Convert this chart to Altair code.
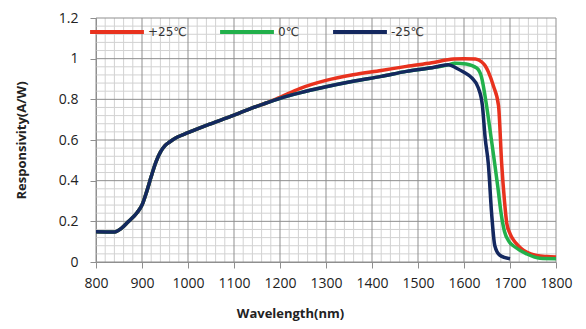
import altair as alt
import pandas as pd

# ---- data ----
series_names = ["+25℃", "0℃", "-25℃"]
series_colors = ["#E8321E", "#22B04B", "#14285F"]

# shared low-wavelength part (all three curves coincide)
common_wl = [800, 840, 855, 870, 890, 900, 910, 920, 930, 940, 950, 960, 975, 1000, 1040, 1100, 1140, 1170]
common_r = [0.149, 0.148, 0.165, 0.198, 0.245, 0.28, 0.345, 0.42, 0.49, 0.54, 0.572, 0.59, 0.612, 0.636, 0.672, 0.722, 0.758, 0.782]

red_wl = [1200, 1243, 1300, 1359, 1420, 1475, 1530, 1577, 1600, 1625, 1638, 1646, 1653, 1664, 1675, 1682, 1688, 1693, 1700, 1707, 1718, 1729, 1745, 1758, 1780, 1800]
red_r = [0.81, 0.853, 0.893, 0.921, 0.942, 0.962, 0.98, 0.998, 1.0, 0.998, 0.985, 0.965, 0.935, 0.865, 0.77, 0.48, 0.30, 0.19, 0.14, 0.11, 0.08, 0.058, 0.04, 0.032, 0.027, 0.025]

blue_mid_wl = [1200, 1243, 1300, 1359, 1420, 1475, 1530, 1566]
blue_mid_r = [0.805, 0.832, 0.862, 0.889, 0.913, 0.9375, 0.955, 0.97]

green_tail_wl = [1580, 1605, 1628, 1638, 1649, 1659, 1667, 1674, 1680, 1688, 1698, 1710, 1736, 1765, 1800]
green_tail_r = [0.978, 0.974, 0.953, 0.91, 0.77, 0.61, 0.48, 0.36, 0.25, 0.15, 0.1, 0.075, 0.04, 0.018, 0.016]

blue_tail_wl = [1584, 1599, 1617, 1631, 1640, 1646, 1653, 1660, 1667, 1678, 1700]
blue_tail_r = [0.953, 0.934, 0.905, 0.857, 0.77, 0.61, 0.48, 0.24, 0.08, 0.033, 0.016]

x_ticks = list(range(800, 1801, 100))
y_ticks = [0, 0.2, 0.4, 0.6, 0.8, 1.0, 1.2]
minor_x = [v for v in range(800, 1801, 20) if v % 100 != 0]
minor_y = [round(i * 0.04, 2) for i in range(31) if i % 5 != 0]

# ---- tables ----
rows = []
curves = {
    series_names[0]: (common_wl + red_wl, common_r + red_r),
    series_names[1]: (common_wl + blue_mid_wl + green_tail_wl, common_r + blue_mid_r + green_tail_r),
    series_names[2]: (common_wl + blue_mid_wl + blue_tail_wl, common_r + blue_mid_r + blue_tail_r),
}
for i, name in enumerate(series_names):
    wl, rr = curves[name]
    for w, r in zip(wl, rr):
        rows.append({"series": name, "wl": w, "r": r, "ord": i})
df = pd.DataFrame(rows)

xscale = alt.Scale(domain=[800, 1800], nice=False, zero=False)
yscale = alt.Scale(domain=[0, 1.2], nice=False)

x_axis = alt.Axis(values=x_ticks, format="d", grid=False, title="Wavelength(nm)",
                  labelFlush=False, labelPadding=8, labelOverlap=False,
                  titleX=194, titleY=51, titleBaseline="middle", titleAlign="center")
y_axis = alt.Axis(values=y_ticks, format="~g", grid=False, title="Responsivity(A/W)",
                  labelFlush=False, labelPadding=12, labelOverlap=False, titlePadding=30)

minor_v = alt.Chart(pd.DataFrame({"x": minor_x})).mark_rule(color="#d2d2d2", strokeWidth=1).encode(
    x=alt.X("x:Q", scale=xscale, axis=x_axis))
minor_h = alt.Chart(pd.DataFrame({"y": minor_y})).mark_rule(color="#d2d2d2", strokeWidth=1).encode(
    y=alt.Y("y:Q", scale=yscale, axis=y_axis))
major_v = alt.Chart(pd.DataFrame({"x": x_ticks})).mark_rule(color="#8f8f8f", strokeWidth=1).encode(
    x=alt.X("x:Q", scale=xscale, axis=x_axis))
major_h = alt.Chart(pd.DataFrame({"y": y_ticks})).mark_rule(color="#8f8f8f", strokeWidth=1).encode(
    y=alt.Y("y:Q", scale=yscale, axis=y_axis))

lines = alt.Chart(df).mark_line(strokeWidth=3.5, interpolate="monotone").encode(
    x=alt.X("wl:Q", scale=xscale, axis=x_axis),
    y=alt.Y("r:Q", scale=yscale, axis=y_axis),
    color=alt.Color("series:N", scale=alt.Scale(domain=series_names, range=series_colors),
                    sort=series_names,
                    legend=alt.Legend(title=None, orient="none", legendX=-8, legendY=-15,
                                      direction="horizontal", symbolType="stroke",
                                      symbolSize=2900, symbolStrokeWidth=4,
                                      columnPadding=25, labelOffset=2)),
    detail="series:N",
    order=alt.Order("ord:Q"),
)

chart = alt.layer(minor_v, minor_h, major_v, major_h, lines).properties(
    width=460, height=244,
    autosize=alt.AutoSizeParams(type="none"),
    padding={"left": 88, "top": 10, "right": 22, "bottom": 59},
    background="white",
).configure_view(stroke=None).configure_axis(
    labelFont="Open Sans", labelFontSize=14, labelColor="#222222",
    titleFont="Open Sans", titleFontSize=13, titleFontWeight="bold", titleColor="#222222",
    domainColor="#8f8f8f", tickColor="#8f8f8f", tickSize=6,
).configure_legend(
    labelFont="DejaVu Sans", labelFontSize=12, labelColor="#333333",
)

chart.save("out.html", embed_options={"renderer": "svg", "actions": False})
